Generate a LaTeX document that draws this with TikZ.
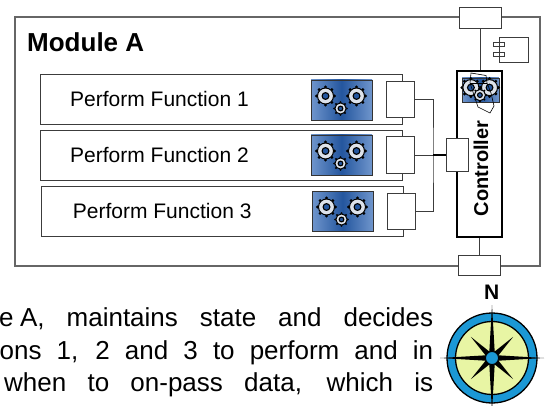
\documentclass[tikz,border=0pt]{standalone}
\usepackage{fontspec}
\setmainfont{Liberation Sans}
\usetikzlibrary{positioning}

\definecolor{iconblue}{HTML}{24569E}
\definecolor{iconpale}{HTML}{6F95CC}
\definecolor{cogface}{HTML}{DDE2EA}
\definecolor{ringblue}{HTML}{1B98D5}
\definecolor{dialface}{HTML}{E8F5A4}
\definecolor{edge}{HTML}{3C3C3C}

\tikzset{
  modframe/.style={draw=black!60, line width=1.2pt},
  fnbox/.style={draw=edge, line width=1pt, fill=white, inner sep=0pt, minimum width=362pt, minimum height=50pt},
  fnlabel/.style={anchor=base west, inner sep=0pt, font=\fontsize{21}{25}\selectfont},
  port/.style={draw=edge, line width=1pt, fill=white, inner sep=0pt, minimum width=28pt, minimum height=36pt},
  ctlbox/.style={draw=black, line width=1.1pt, fill=white, inner sep=0pt, minimum width=45pt, minimum height=166pt},
  ctllabel/.style={rotate=90, anchor=base, inner sep=0pt, font=\bfseries\fontsize{20}{24}\selectfont},
  wire/.style={draw=edge, line width=0.9pt},
  para/.style={anchor=base west, inner sep=0pt, font=\fontsize{26}{32}\selectfont},
  cog/.pic={
    \foreach \a in {0,45,...,315} \fill[black] (\a:9) circle (1.6);
    \filldraw[fill=cogface, draw=black, line width=1pt] (0,0) circle (8);
    \filldraw[fill=iconblue, draw=black, line width=1.1pt] (0,0) circle (3.4);
  },
  gearbox/.pic={
    \shadedraw[left color=iconpale, right color=iconpale, middle color=iconblue, draw=black!80, line width=0.6pt] (-30.5,-20) rectangle (30.5,20);
    \pic at (-16,-4) {cog};
    \pic at (15,-4) {cog};
    \pic[scale=0.7] at (-1,8.5) {cog};
  }
}

\begin{document}
\begin{tikzpicture}[x=1pt,y=-1pt]
\useasboundingbox (0,0) rectangle (545,406);
\clip (0,0) rectangle (545,406);

\draw[modframe] (15,17) rectangle (540,266);
\draw (27,52) node[anchor=base west, inner sep=0pt, font=\bfseries\fontsize{26}{30}\selectfont] (mod) {Module A};

\draw (221,100) node[fnbox] (f1) {} +(-151,6.7) node[fnlabel] (t1) {Perform Function 1};
\draw (221,155.5) node[fnbox] (f2) {} +(-151,6.5) node[fnlabel] (t2) {Perform Function 2};
\draw (222.5,211.5) node[fnbox] (f3) {} +(-149.8,6.7) node[fnlabel] (t3) {Perform Function 3};

\pic at (341.5,100) {gearbox};
\pic at (341.5,155) {gearbox};
\pic at (342.5,211) {gearbox};

\draw (400,99.5) node[port] (p1) {};
\draw (400.3,155) node[port] (p2) {};
\draw (401.5,211.3) node[port] (p3) {};

\draw (479.5,154) node[ctlbox] (ctl) {};
\draw (480,18.5) node[port, minimum width=42pt, minimum height=21pt] (tp) {};
\draw (479,265) node[port, minimum width=42pt, minimum height=20pt] (bp) {};
\draw (457,155) node[port, minimum width=22pt, minimum height=32pt] (hub) {};

\pic[scale=0.6] at (480.5,90) {gearbox};
\draw[black, line width=0.6pt] (471,73) -- (486,75.5) -- (487,83) -- (491,93) -- (494,106) -- (490,113)
  -- (478,107) -- (473,92) -- (470,83) -- cycle;
\draw[black, line width=0.6pt] (470,83) -- (487,83);
\draw (488,168.5) node[ctllabel] (ctltxt) {Controller};

\draw[wire] (tp.south) -- (tp.south |- ctl.north);
\draw[wire] (bp.north) -- (bp.north |- ctl.south);

\coordinate (bus) at (433,155);
\draw[wire] (p1.east) -| (bus) |- (p3.east);
\draw[wire] (p2.east) -- (bus);
\draw[black, line width=2pt] (bus) -- (hub.west);

\filldraw[fill=white, draw=edge, line width=0.8pt] (493,42.5) rectangle (504.5,46.5);
\filldraw[fill=white, draw=edge, line width=0.8pt] (493,52.5) rectangle (504.5,56.5);
\draw[edge, line width=0.8pt] (499.5,37.5) rectangle (528,62);

\draw (-1,326.7) node[para] (l1) {\makebox[434pt][s]{e\hspace{6.5pt}A, maintains state and decides}};
\draw (-0.5,359) node[para] (l2) {\makebox[433.5pt][s]{ons 1, 2 and 3 to perform and in}};
\draw (4,391.7) node[para] (l3) {\makebox[429pt][s]{when to on-pass data, which is}};

\begin{scope}[shift={(492,358)}]
  \filldraw[fill=ringblue, draw=black, line width=1.3pt] (0,0) circle (45);
  \filldraw[fill=dialface, draw=black, line width=1.3pt] (0,0) circle (36.5);
  \fill[black] (0:52) -- (22.5:7) -- (45:30) -- (67.5:7) -- (90:54) -- (112.5:7) -- (135:30) -- (157.5:7)
    -- (180:52) -- (202.5:7) -- (225:30) -- (247.5:7) -- (270:53) -- (292.5:7) -- (315:30) -- (337.5:7) -- cycle;
  \filldraw[fill=ringblue, draw=black, line width=0.9pt] (0,0) circle (6.5);
\end{scope}
\draw (491.7,292.5) node[inner sep=0pt, font=\bfseries\fontsize{21}{24}\selectfont] (north) {N};
\end{tikzpicture}
\end{document}
